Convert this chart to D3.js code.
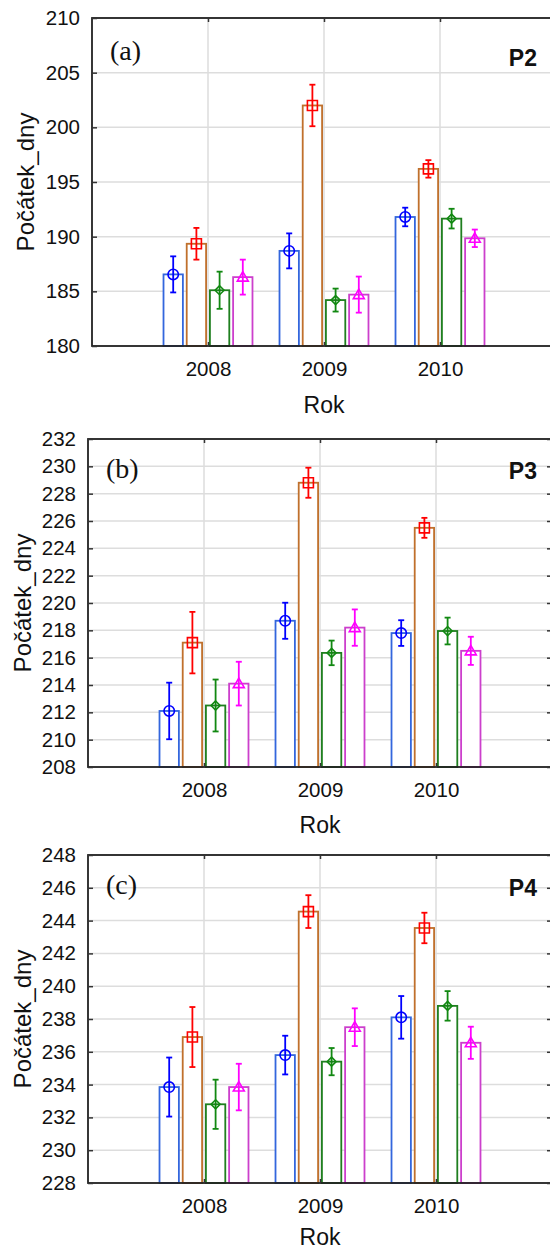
<!DOCTYPE html>
<html>
<head>
<meta charset="utf-8">
<script src="https://cdn.jsdelivr.net/npm/d3@7"></script>
<style>
  html, body { margin: 0; padding: 0; background: #fff; }
  svg { display: block; }
</style>
</head>
<body>
<svg id="chart" width="550" height="1251"></svg>
<script>
// ---------- DATA ----------
const years = ["2008", "2009", "2010"];

// Panel (a) P2
const p2Ticks = [180, 185, 190, 195, 200, 205, 210];
const p2Blue = [186.55, 188.7, 191.8];
const p2Brown = [189.35, 202.0, 196.2];
const p2Green = [185.1, 184.2, 191.65];
const p2Magenta = [186.3, 184.7, 189.85];
const p2BlueErr = [1.65, 1.6, 0.85];
const p2BrownErr = [1.45, 1.9, 0.8];
const p2GreenErr = [1.7, 1.05, 0.9];
const p2MagentaErr = [1.6, 1.65, 0.8];

// Panel (b) P3
const p3Ticks = [208, 210, 212, 214, 216, 218, 220, 222, 224, 226, 228, 230, 232];
const p3Blue = [212.1, 218.7, 217.8];
const p3Brown = [217.1, 228.8, 225.5];
const p3Green = [212.5, 216.35, 217.95];
const p3Magenta = [214.1, 218.2, 216.5];
const p3BlueErr = [2.07, 1.32, 0.94];
const p3BrownErr = [2.25, 1.1, 0.73];
const p3GreenErr = [1.9, 0.9, 0.98];
const p3MagentaErr = [1.6, 1.33, 1.03];

// Panel (c) P4
const p4Ticks = [228, 230, 232, 234, 236, 238, 240, 242, 244, 246, 248];
const p4Blue = [233.85, 235.8, 238.1];
const p4Brown = [236.9, 244.55, 243.55];
const p4Green = [232.8, 235.4, 238.8];
const p4Magenta = [233.85, 237.5, 236.55];
const p4BlueErr = [1.8, 1.18, 1.3];
const p4BrownErr = [1.83, 1.0, 0.93];
const p4GreenErr = [1.5, 0.83, 0.9];
const p4MagentaErr = [1.42, 1.15, 0.98];

// ---------- STYLE ----------
const seriesStyle = [
  { bar: "#3366dd", mark: "#0000ff", shape: "circle" },
  { bar: "#c0702c", mark: "#ff0000", shape: "square" },
  { bar: "#1f7f1f", mark: "#118811", shape: "diamond" },
  { bar: "#cc3fcc", mark: "#ff00ff", shape: "triangle" }
];
const offsets = [-0.3, -0.1, 0.1, 0.3];
const barW = 0.167;

const panels = [
  { label: "(a)", tag: "P2", left: 92, right: 556, top: 18, bottom: 346,
    ticks: p2Ticks, means: [p2Blue, p2Brown, p2Green, p2Magenta],
    errs: [p2BlueErr, p2BrownErr, p2GreenErr, p2MagentaErr],
    labDy: 42, tagDy: 48, ylabX: 34, rokDy: 66.5 },
  { label: "(b)", tag: "P3", left: 88, right: 552, top: 439, bottom: 767,
    ticks: p3Ticks, means: [p3Blue, p3Brown, p3Green, p3Magenta],
    errs: [p3BlueErr, p3BrownErr, p3GreenErr, p3MagentaErr],
    labDy: 39, tagDy: 40, ylabX: 31, rokDy: 66 },
  { label: "(c)", tag: "P4", left: 88, right: 552, top: 855, bottom: 1183,
    ticks: p4Ticks, means: [p4Blue, p4Brown, p4Green, p4Magenta],
    errs: [p4BlueErr, p4BrownErr, p4GreenErr, p4MagentaErr],
    labDy: 39, tagDy: 41, ylabX: 31, rokDy: 62 }
];

const svg = d3.select("#chart");
const sans = "'Liberation Sans', Arial, sans-serif";
const serif = "'Liberation Serif', 'Times New Roman', serif";

function markerPath(shape) {
  if (shape === "circle") return d3.symbol(d3.symbolCircle, 85)();
  if (shape === "square") return "M-5,-5H5V5H-5Z";
  if (shape === "diamond") return "M0,-4.5L4.5,0L0,4.5L-4.5,0Z";
  return "M0,-5.5L5.5,4L-5.5,4Z";
}

panels.forEach(p => {
  const x = d3.scaleLinear().domain([0, 4]).range([p.left, p.right]);
  const y = d3.scaleLinear().domain([p.ticks[0], p.ticks[p.ticks.length - 1]]).range([p.bottom, p.top]);
  const g = svg.append("g");

  // grid
  g.append("g").selectAll("line").data(p.ticks).join("line")
    .attr("x1", p.left).attr("x2", p.right)
    .attr("y1", d => y(d)).attr("y2", d => y(d))
    .attr("stroke", "#dddddd").attr("stroke-width", 1.5);
  g.append("g").selectAll("line").data([1, 2, 3]).join("line")
    .attr("x1", d => x(d)).attr("x2", d => x(d))
    .attr("y1", p.top).attr("y2", p.bottom)
    .attr("stroke", "#dddddd").attr("stroke-width", 1.5);

  // bars
  p.means.forEach((vals, si) => {
    const st = seriesStyle[si];
    g.append("g").selectAll("rect").data(vals).join("rect")
      .attr("x", (d, i) => x(i + 1 + offsets[si] - barW / 2))
      .attr("width", x(barW) - x(0))
      .attr("y", d => y(d))
      .attr("height", d => p.bottom - y(d))
      .attr("fill", "#fff")
      .attr("stroke", st.bar).attr("stroke-width", 1.8);
  });

  // markers and error bars
  p.means.forEach((vals, si) => {
    const st = seriesStyle[si];
    const errs = p.errs[si];
    const mg = g.append("g");
    vals.forEach((v, i) => {
      const cx = x(i + 1 + offsets[si]);
      mg.append("path")
        .attr("d", markerPath(st.shape))
        .attr("transform", `translate(${cx},${y(v)})`)
        .attr("fill", "none").attr("stroke", st.mark).attr("stroke-width", 1.6);
      mg.append("line")
        .attr("x1", cx).attr("x2", cx)
        .attr("y1", y(v + errs[i])).attr("y2", y(v - errs[i]))
        .attr("stroke", st.mark).attr("stroke-width", 1.8);
      [v + errs[i], v - errs[i]].forEach(e => {
        mg.append("line")
          .attr("x1", cx - 3).attr("x2", cx + 3)
          .attr("y1", y(e)).attr("y2", y(e))
          .attr("stroke", st.mark).attr("stroke-width", 1.8);
      });
    });
  });

  // frame
  g.append("rect")
    .attr("x", p.left).attr("y", p.top)
    .attr("width", p.right - p.left).attr("height", p.bottom - p.top)
    .attr("fill", "none").attr("stroke", "#222").attr("stroke-width", 1.8);

  // axes
  const ax = g.append("g").attr("transform", `translate(${p.left},0)`)
    .call(d3.axisLeft(y).tickValues(p.ticks).tickSize(-5).tickPadding(12).tickFormat(d3.format("d")));
  ax.select(".domain").remove();
  ax.selectAll("line").attr("stroke", "#333").attr("stroke-width", 1.5);
  ax.selectAll("text").attr("font-family", sans).attr("font-size", 20.5).attr("fill", "#111");

  const axr = g.append("g").attr("transform", `translate(${p.right},0)`)
    .call(d3.axisRight(y).tickValues(p.ticks).tickSize(-5).tickFormat(""));
  axr.select(".domain").remove();
  axr.selectAll("line").attr("stroke", "#333").attr("stroke-width", 1.5);

  const axb = g.append("g").attr("transform", `translate(0,${p.bottom})`)
    .call(d3.axisBottom(x).tickValues([1, 2, 3]).tickSize(-4).tickPadding(15.5).tickFormat(d => years[d - 1]));
  axb.select(".domain").remove();
  axb.selectAll("line").attr("stroke", "#333").attr("stroke-width", 1.5);
  axb.selectAll("text").attr("font-family", sans).attr("font-size", 20.5).attr("fill", "#111");

  const axt = g.append("g").attr("transform", `translate(0,${p.top})`)
    .call(d3.axisTop(x).tickValues([1, 2, 3]).tickSize(-4).tickFormat(""));
  axt.select(".domain").remove();
  axt.selectAll("line").attr("stroke", "#333").attr("stroke-width", 1.5);

  // axis titles
  g.append("text")
    .attr("x", x(2)).attr("y", p.bottom + p.rokDy)
    .attr("text-anchor", "middle")
    .attr("font-family", sans).attr("font-size", 23).attr("fill", "#111")
    .text("Rok");
  g.append("text")
    .attr("transform", `translate(${p.ylabX},${(p.top + p.bottom) / 2}) rotate(-90)`)
    .attr("text-anchor", "middle")
    .attr("font-family", sans).attr("font-size", 24).attr("fill", "#111")
    .text("Počátek_dny");

  // panel letter and tag
  g.append("text")
    .attr("x", p.left + 18).attr("y", p.top + p.labDy)
    .attr("font-family", serif).attr("font-size", 28).attr("fill", "#111")
    .text(p.label);
  g.append("text")
    .attr("x", 537).attr("y", p.top + p.tagDy)
    .attr("text-anchor", "end")
    .attr("font-family", sans).attr("font-size", 23).attr("font-weight", "bold").attr("fill", "#111")
    .text(p.tag);
});
</script>
</body>
</html>
